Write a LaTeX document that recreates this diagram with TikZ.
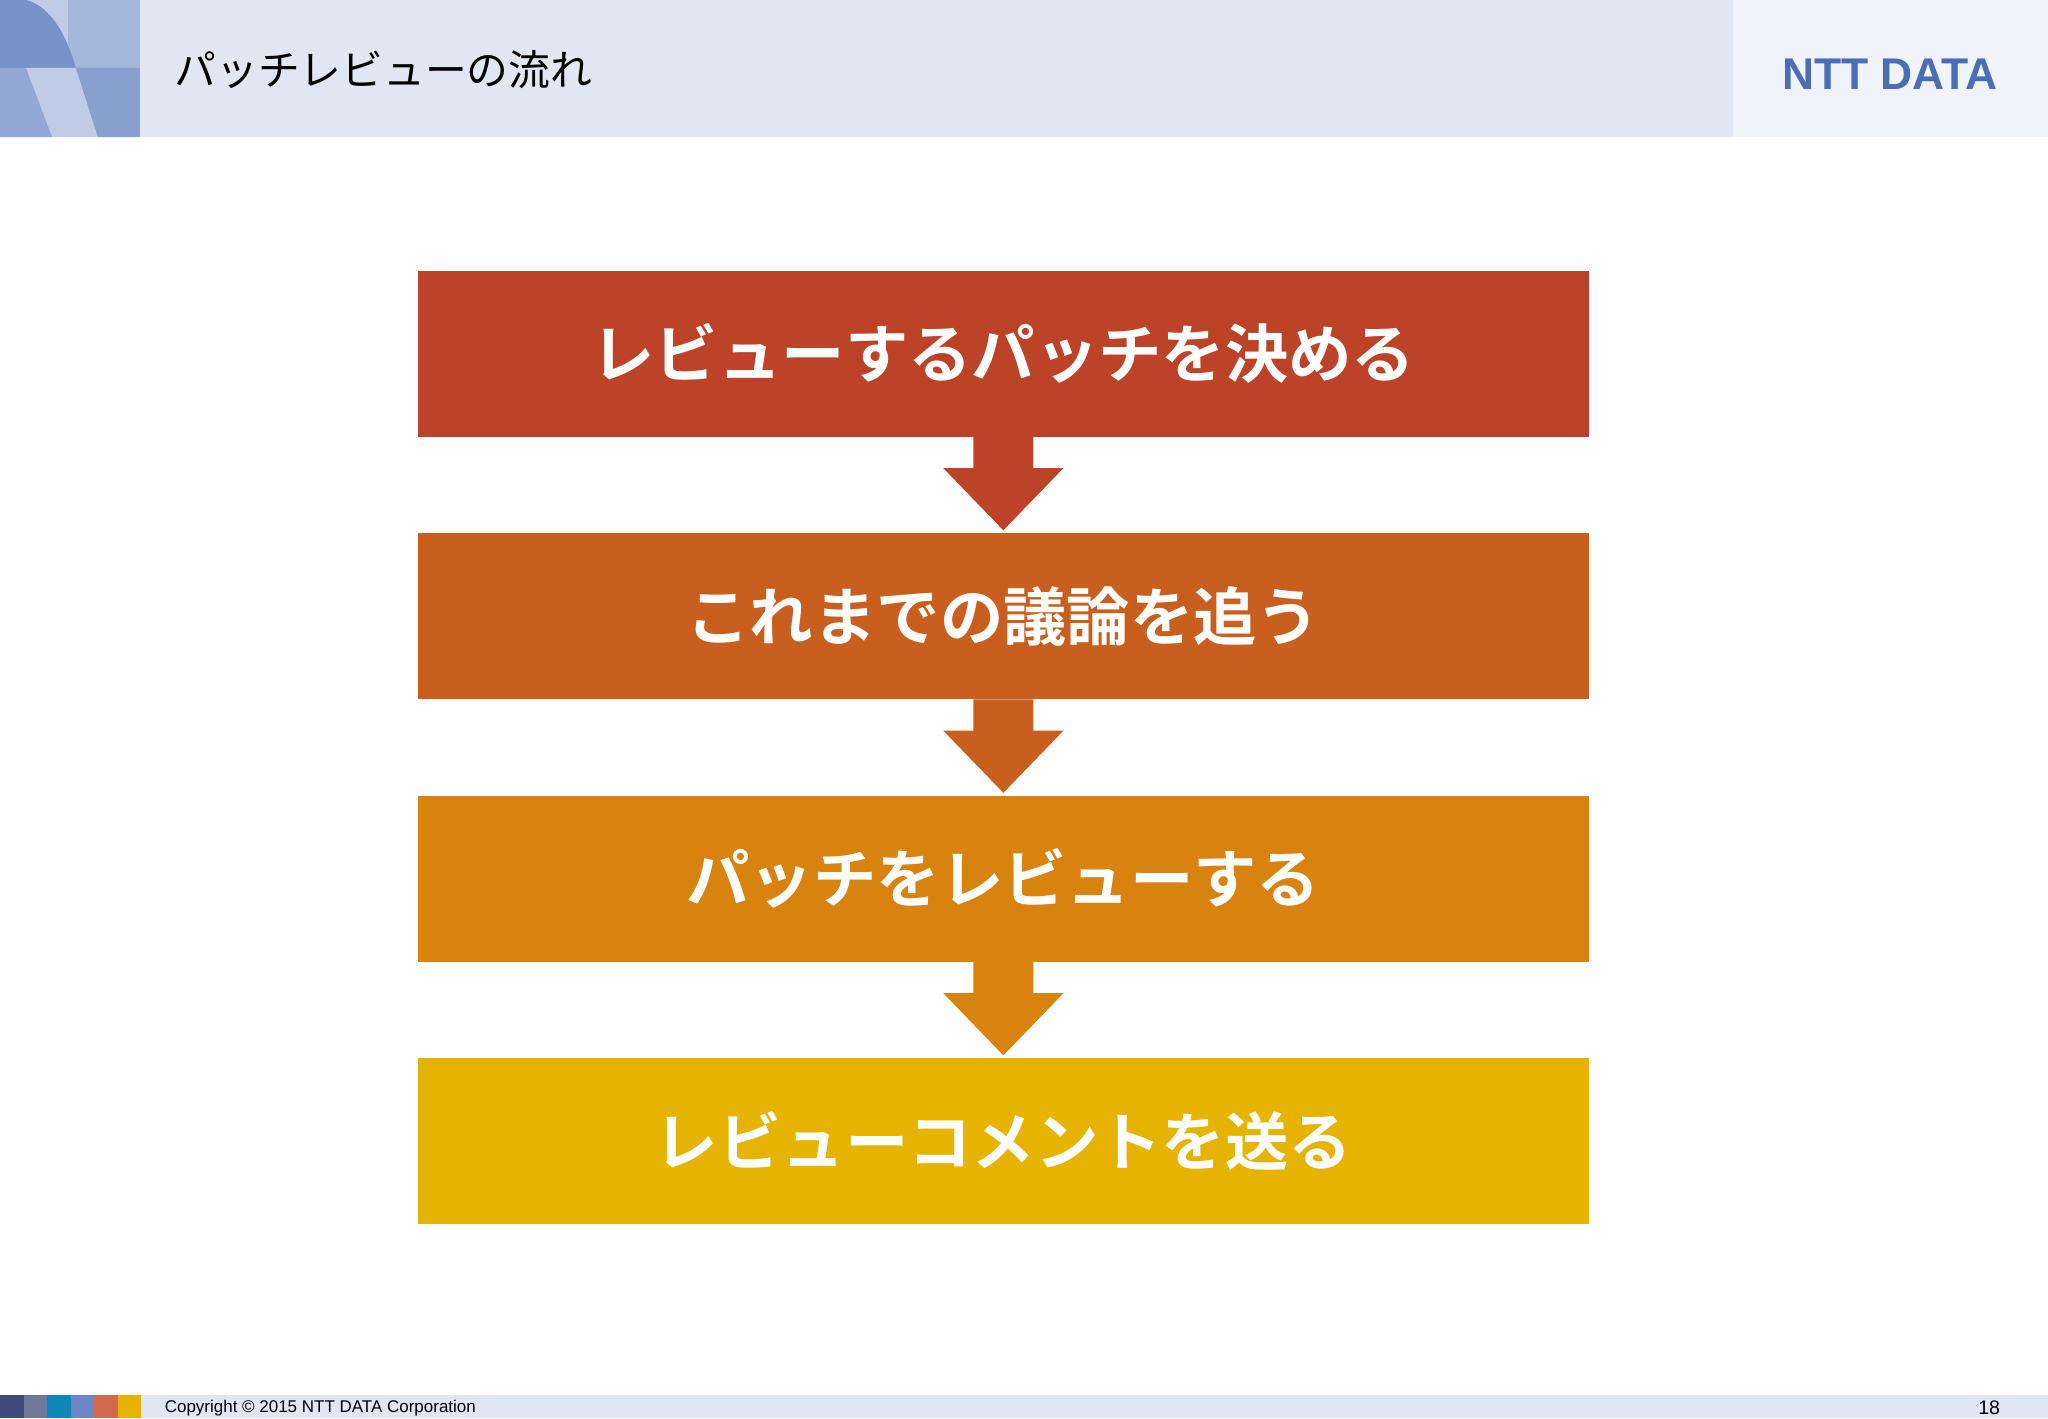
\documentclass[tikz,border=0pt]{standalone}
\usepackage{fontspec}
\newfontfamily\jp{Noto Sans CJK JP}
\newfontfamily\jpb{Noto Sans CJK JP Bold}
\setmainfont{Liberation Sans}
\definecolor{hdr}{HTML}{E1E6F2}
\definecolor{cA}{HTML}{BC4328}
\definecolor{cB}{HTML}{C95F1E}
\definecolor{cC}{HTML}{D8820F}
\definecolor{cD}{HTML}{E5B300}
\definecolor{logo}{HTML}{4A6DB5}
\begin{document}
\begin{tikzpicture}[x=1pt,y=-1pt,
  stepbox/.style={minimum width=896pt,minimum height=127pt,inner sep=0pt,font=\jpb\fontsize{48.5}{52}\selectfont,text=white,anchor=north west}]
\useasboundingbox (0,0) rectangle (1568,1086);
\fill[white] (0,0) rectangle (1568,1086);
% header
\fill[hdr] (0,0) rectangle (1327,105);
\fill[hdr!50!white] (1327,0) rectangle (1568,105);
\fill[logo!35!white] (0,0) rectangle (107,105);
\fill[logo!50!white] (52,0) rectangle (107,52);
\fill[logo!45!white] (0,52) rectangle (52,105);
\fill[logo!75!white] (0,0) -- (20,0) .. controls (40,5) and (52,30) .. (58,52) -- (0,52) -- cycle;
\fill[logo!60!white] (0,52) -- (20,52) -- (40,105) -- (0,105) -- cycle;
\fill[logo!35!white] (20,52) -- (58,52) -- (75,105) -- (40,105) -- cycle;
\fill[logo!65!white] (58,52) -- (107,52) -- (107,105) -- (75,105) -- cycle;
\node[anchor=west,font=\jp\fontsize{32}{36}\selectfont] (title) at (130,53) {パッチレビューの流れ};
\node[anchor=center,font=\bfseries\fontsize{34}{36}\selectfont,text=logo] (logo) at (1447,57) {NTT DATA};
% boxes
\node[stepbox,fill=cA] (b1) at (320,207) {レビューするパッチを決める};
\node[stepbox,fill=cB] (b2) at (320,408) {これまでの議論を追う};
\node[stepbox,fill=cC] (b3) at (320,609) {パッチをレビューする};
\node[stepbox,fill=cD] (b4) at (320,810) {レビューコメントを送る};
\foreach \a/\b/\c in {b1/b2/cA,b2/b3/cB,b3/b4/cC}{
  \fill[\c] ([xshift=-23pt]\a.south) -- ([xshift=-23pt,yshift=-24pt]\a.south) -- ([xshift=-46pt,yshift=-24pt]\a.south)
    -- ([yshift=2pt]\b.north) -- ([xshift=46pt,yshift=-24pt]\a.south) -- ([xshift=23pt,yshift=-24pt]\a.south)
    -- ([xshift=23pt]\a.south) -- cycle;
}
% footer
\fill[hdr] (0,1068) rectangle (1568,1086);
\foreach \i/\c in {0/3E4A7A,1/6F7A98,2/0E86B8,3/6A86C6,4/CF6A50,5/E5B300}{
  \definecolor{tmp}{HTML}{\c}\fill[tmp] (\i*18,1068) rectangle (\i*18+18,1086);}
\node[anchor=west,font=\fontsize{13}{15}\selectfont,inner sep=0pt] (copy) at (126,1078) {Copyright © 2015 NTT DATA Corporation};
\node[anchor=center,font=\fontsize{15}{17}\selectfont,inner sep=0pt] (pg) at (1523,1078) {18};
\end{tikzpicture}
\end{document}
